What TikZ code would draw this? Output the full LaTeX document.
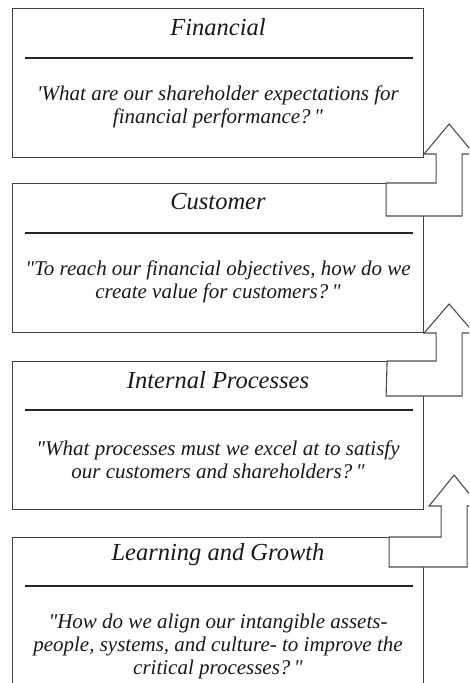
\documentclass[tikz,border=0pt]{standalone}
\usepackage{fontspec}
\setmainfont{Liberation Serif}[Ligatures=TeXOff]
\usetikzlibrary{positioning}

\begin{document}
\begin{tikzpicture}[x=1pt,y=1pt,yscale=-1,
    box/.style={draw=black!75,line width=1.1pt,minimum width=411pt,minimum height=149pt,anchor=north west,inner sep=0pt},
    head/.style={font=\fontsize{24.5}{28}\selectfont\itshape,text=black!90},
    ask/.style={font=\fontsize{21}{23}\selectfont\itshape,align=center,text=black!90},
    turn/.style={draw=black!70,line width=1.1pt,fill=white,line join=miter}]
        \useasboundingbox (0,0) rectangle (469,683);
        \clip (0,0) rectangle (469,683);

        % Boxes
        \node [box] (fin) at (12,8) {};
        \node [box] (cus) at (12,183) {};
        \node [box,minimum height=148pt] (int) at (12,361) {};
        \node [box,minimum height=170pt] (lrn) at (12,537) {};

        % Titles
        \node [head] (finhead) at (218,27) {Financial};
        \node [head] (cushead) at (218,202) {Customer};
        \node [head] (inthead) at (218,380) {Internal Processes};
        \node [head] (lrnhead) at (218,555) {Learning and Growth};

        % Rules under the titles
        \draw [line width=1.1pt,black!85] (25,58) -- (413,58);
        \draw [line width=1.1pt,black!85] (25,233) -- (413,233);
        \draw [line width=1.1pt,black!85] (25,410) -- (413,410);
        \draw [line width=1.1pt,black!85] (25,586) -- (413,586);

        % Questions
        \node [ask] (finask) at (218,107) {'What are our shareholder expectations for\\financial performance?\,"};
        \node [ask] (cusask) at (218,282) {"To reach our financial objectives, how do we\\create value for customers?\,"};
        \node [ask] (intask) at (218,460) {"What processes must we excel at to satisfy\\our customers and shareholders?\,"};
        \node [ask] (lrnask) at (218,646) {"How do we align our intangible assets-\\people, systems, and culture- to improve the\\critical processes?\,"};

        % Bent arrows, lower box up to the one above
        \draw [turn] (cus.north east) ++(-38,0) -- ++(50,0) -- ++(0,-29) -- ++(-12,0) -- ++(25,-30) -- ++(25,30) -- ++(-12,0) -- ++(0,62) -- ++(-76,0) -- cycle;
        \draw [turn] (int.north east) ++(-37,0) -- ++(49,0) -- ++(0,-28) -- ++(-12,0) -- ++(25,-29) -- ++(25,29) -- ++(-12,0) -- ++(0,63) -- ++(-76,0) -- cycle;
        \draw [turn] (lrn.north east) ++(-35,0) -- ++(52,0) -- ++(0,-31) -- ++(-12,0) -- ++(25,-31) -- ++(25,31) -- ++(-12,0) -- ++(0,61) -- ++(-78,0) -- cycle;
\end{tikzpicture}
\end{document}
